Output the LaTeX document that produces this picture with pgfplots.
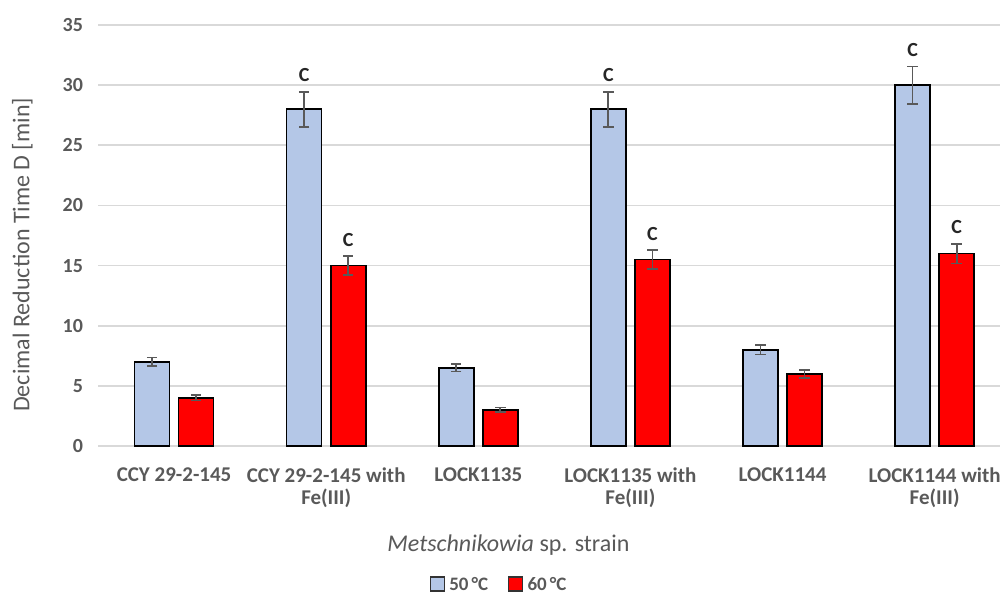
\documentclass[border=0pt]{standalone}
\usepackage{fontspec}
\setmainfont{Carlito}
\usepackage{pgfplots}
\pgfplotsset{compat=1.18}
\definecolor{txt}{HTML}{595959}
\definecolor{bblue}{HTML}{B4C7E7}
\definecolor{rred}{HTML}{FF0000}
\definecolor{gridc}{HTML}{D9D9D9}
\begin{document}
\begin{tikzpicture}
\useasboundingbox (0,0) rectangle (500pt,298pt);
\begin{axis}[
  at={(49pt,75pt)}, anchor=south west,
  scale only axis, width=451pt, height=210.5pt,
  xmin=-0.5, xmax=5.43, ymin=0, ymax=35,
  ytick={0,5,...,35},
  xtick={0,1,2,3,4,5},
  xticklabels={{CCY 29-2-145},{CCY 29-2-145 with\\Fe(III)},{LOCK1135},{LOCK1135 with\\Fe(III)},{LOCK1144},{LOCK1144 with\\Fe(III)}},
  xticklabel style={align=center, font=\fontsize{10.5}{11}\selectfont\bfseries, text=txt, yshift=-3pt},
  yticklabel style={font=\fontsize{10}{11}\selectfont\bfseries, text=txt, xshift=-4pt},
  /pgf/number format/assume math mode=true,
  axis line style={draw=none},
  major tick style={draw=none},
  xmajorgrids=false, ymajorgrids=true,
  major grid style={draw=gridc, line width=0.8pt},
  ylabel={Decimal Reduction Time D [min]},
  ylabel style={at={(axis description cs:-0.084,0.454)}, anchor=center, font=\fontsize{12}{14}\selectfont, text=txt},
  xlabel={\textit{Metschnikowia} sp. strain},
  xlabel style={at={(axis description cs:0.455,-0.235)}, anchor=center, font=\fontsize{12}{14}\selectfont, text=txt},
  legend style={at={(axis description cs:0.446,-0.33)}, anchor=center, draw=none, legend columns=-1, font=\fontsize{9.5}{11}\selectfont\bfseries, text=txt, /tikz/every even column/.append style={column sep=8pt}},
  ybar, bar width=0.23,
  error bars/y dir=both, error bars/y explicit,
  error bars/error bar style={draw=txt, line width=0.9pt},
  error bars/error mark options={rotate=90, mark size=2.6pt, draw=txt, line width=0.9pt},
]
\addplot[fill=bblue, draw=black, line width=0.8pt, bar shift=-0.145,
  legend image code/.code={\draw[fill=bblue, draw=black!80, line width=0.6pt] (0pt,-3pt) rectangle (7pt,4pt);}] coordinates {
  (0,7) +- (0,0.35)
  (1,28) +- (0,1.45)
  (2,6.5) +- (0,0.3)
  (3,28) +- (0,1.45)
  (4,8) +- (0,0.4)
  (5,30) +- (0,1.55)
};
\addplot[fill=rred, draw=black, line width=0.8pt, bar shift=0.145,
  legend image code/.code={\draw[fill=rred, draw=black!80, line width=0.6pt] (0pt,-3pt) rectangle (7pt,4pt);}] coordinates {
  (0,4) +- (0,0.22)
  (1,15) +- (0,0.78)
  (2,3) +- (0,0.2)
  (3,15.5) +- (0,0.78)
  (4,6) +- (0,0.32)
  (5,16) +- (0,0.82)
};
\legend{50\,°C, 60\,°C}
\begin{scope}[every node/.style={anchor=base, inner sep=0pt, yshift=5pt, font=\fontsize{10}{12}\selectfont\bfseries, text=black!85}]
\node at (axis cs:0.855,29.45) {C};
\node at (axis cs:1.145,15.78) {C};
\node at (axis cs:2.855,29.45) {C};
\node at (axis cs:3.145,16.28) {C};
\node at (axis cs:4.855,31.55) {C};
\node at (axis cs:5.145,16.82) {C};
\end{scope}
\end{axis}
\end{tikzpicture}
\end{document}
